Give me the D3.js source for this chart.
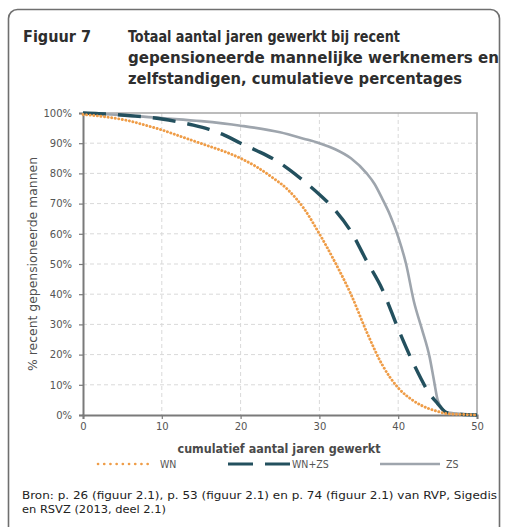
<!DOCTYPE html>
<html><head><meta charset="utf-8">
<script src="https://cdn.jsdelivr.net/npm/d3@7"></script>
<style>body{margin:0;background:#fff}svg{display:block}</style>
</head><body><div id="chart"></div>
<script>
const years = [0,2,4,6,8,10,12,14,16,18,20,22,24,26,28,30,32,34,36,38,40,42,44,45,46,47,48,50];
const wn    = [99.5,99,98.3,97.3,95.9,94.4,92.6,90.8,89,87.2,85,82.2,78.7,74.6,68.5,60,50.5,40,27.5,16.5,9,4.6,2,1.2,0.5,0.3,0.2,0];
const wnzs  = [100,99.8,99.5,99.1,98.7,98,97.1,96,94.6,92.6,90,87.6,85,81.6,77.5,73,67.8,60.8,51,41.5,28.5,16.7,7,3.8,1,0.4,0.2,0];
const zsYears = [0,5,10,15,20,25,28,30,32,34,36,37,38,39,40,41,42,43,44,44.5,45,45.7,46,48,50];
const zs      = [100,99.3,98.3,97.3,95.8,93.6,91.5,90,88,85,80,76.5,71.5,66,59,50,37.5,28.5,19,12,5,1.7,1,0.4,0];
const yTicks = [0,10,20,30,40,50,60,70,80,90,100];
const xTicks = [0,10,20,30,40,50];
const titleLabel = "Figuur 7";
const titleLines = ["Totaal aantal jaren gewerkt bij recent","gepensioneerde mannelijke werknemers en","zelfstandigen, cumulatieve percentages"];
const xTitle = "cumulatief aantal jaren gewerkt";
const yTitle = "% recent gepensioneerde mannen";
const legendNames = ["WN","WN+ZS","ZS"];
const sourceLines = ["Bron: p. 26 (figuur 2.1), p. 53 (figuur 2.1) en p. 74 (figuur 2.1) van RVP, Sigedis","en RSVZ (2013, deel 2.1)"];

const W=507,H=527;
const svg=d3.select("#chart").append("svg").attr("width",W).attr("height",H);
const font="DejaVu Sans, Verdana, sans-serif";
const cfont="DejaVu Sans Condensed, DejaVu Sans, sans-serif";

svg.append("rect").attr("x",8.5).attr("y",9.5).attr("width",491).attr("height",540).attr("rx",9)
  .attr("fill","none").attr("stroke","#6f6f6f").attr("stroke-width",1.6);

function fitText(sel,w){const n=sel.node();const l=n.getComputedTextLength();if(l>0){sel.attr("textLength",w).attr("lengthAdjust","spacingAndGlyphs");}}
const tt=svg.append("g").attr("font-family",cfont).attr("font-weight","bold").attr("font-size",16).attr("fill","#2e2e2e");
fitText(tt.append("text").attr("x",23).attr("y",42).text(titleLabel),68);
const tw=[272,371,334];
titleLines.forEach((t,i)=>{fitText(tt.append("text").attr("x",128).attr("y",42+i*21).text(t),tw[i]);});

const m={l:83,r:477,t:113,b:415};
const x=d3.scaleLinear().domain([0,50]).range([m.l,m.r]);
const y=d3.scaleLinear().domain([0,100]).range([m.b,m.t]);

const g=svg.append("g");
g.selectAll(".hg").data(yTicks.slice(1,-1)).join("line").attr("x1",m.l).attr("x2",m.r).attr("y1",d=>y(d)).attr("y2",d=>y(d))
 .attr("stroke","#d9d9d9").attr("stroke-width",1).attr("stroke-dasharray","4,3");
g.selectAll(".vg").data(xTicks.slice(1,-1)).join("line").attr("y1",m.t).attr("y2",m.b).attr("x1",d=>x(d)).attr("x2",d=>x(d))
 .attr("stroke","#d9d9d9").attr("stroke-width",1).attr("stroke-dasharray","4,3");
svg.append("path").attr("d",`M${m.l},${m.t}H${m.r}V${m.b}`).attr("fill","none").attr("stroke","#a6a6a6").attr("stroke-width",1.6);

const ya=svg.append("g").attr("transform",`translate(${m.l},0)`)
 .call(d3.axisLeft(y).tickValues(yTicks).tickFormat(d=>d+"%").tickSize(4).tickPadding(7));
const xa=svg.append("g").attr("transform",`translate(0,${m.b})`)
 .call(d3.axisBottom(x).tickValues(xTicks).tickSize(4).tickPadding(4));
[ya,xa].forEach(a=>{a.select(".domain").attr("stroke","#7a7a7a").attr("stroke-width",2);
 a.selectAll(".tick line").attr("stroke","#7a7a7a").attr("stroke-width",1.2);
 a.selectAll("text").attr("font-family",font).attr("font-size",10).attr("fill","#555");});

const line=d3.line().x(d=>x(d[0])).y(d=>y(d[1])).curve(d3.curveMonotoneX);
svg.append("path").datum(zsYears.map((d,i)=>[d,zs[i]])).attr("d",line).attr("fill","none")
 .attr("stroke","#9ea5ad").attr("stroke-width",2.6);
svg.append("path").datum(years.map((d,i)=>[d,wnzs[i]])).attr("d",line).attr("fill","none")
 .attr("stroke","#23505e").attr("stroke-width",3.4).attr("stroke-dasharray","23,12");
svg.append("path").datum(years.map((d,i)=>[d,wn[i]])).attr("d",line).attr("fill","none")
 .attr("stroke","#ef9d48").attr("stroke-width",2.9).attr("stroke-linecap","round").attr("stroke-dasharray","0.1,3.5");

fitText(svg.append("text").attr("x",279).attr("y",453).attr("text-anchor","middle").attr("font-family",cfont)
 .attr("font-weight","bold").attr("font-size",12).attr("fill","#4a4a4a").text(xTitle),203);
fitText(svg.append("text").attr("transform","translate(37,264) rotate(-90)").attr("text-anchor","middle").attr("font-family",font)
 .attr("font-size",11.5).attr("fill","#505050").text(yTitle),214);

const lg=svg.append("g").attr("font-family",cfont).attr("font-size",10.5).attr("fill","#555");
const ly=464;
lg.append("line").attr("x1",98).attr("x2",153).attr("y1",ly).attr("y2",ly).attr("stroke","#ef9d48").attr("stroke-width",2.6).attr("stroke-linecap","round").attr("stroke-dasharray","0.1,6.1");
lg.append("text").attr("x",160).attr("y",ly+4).text(legendNames[0]);
lg.append("line").attr("x1",228).attr("x2",291).attr("y1",ly).attr("y2",ly).attr("stroke","#23505e").attr("stroke-width",3.2).attr("stroke-dasharray","25,12");
lg.append("text").attr("x",292).attr("y",ly+4).text(legendNames[1]);
lg.append("line").attr("x1",380).attr("x2",440).attr("y1",ly).attr("y2",ly).attr("stroke","#9ea5ad").attr("stroke-width",2.4);
lg.append("text").attr("x",446).attr("y",ly+4).text(legendNames[2]);

const sg=svg.append("g").attr("font-family",cfont).attr("font-size",11).attr("fill","#222");
fitText(sg.append("text").attr("x",22).attr("y",499).text(sourceLines[0]),475);
fitText(sg.append("text").attr("x",22).attr("y",513).text(sourceLines[1]),144);
</script></body></html>
